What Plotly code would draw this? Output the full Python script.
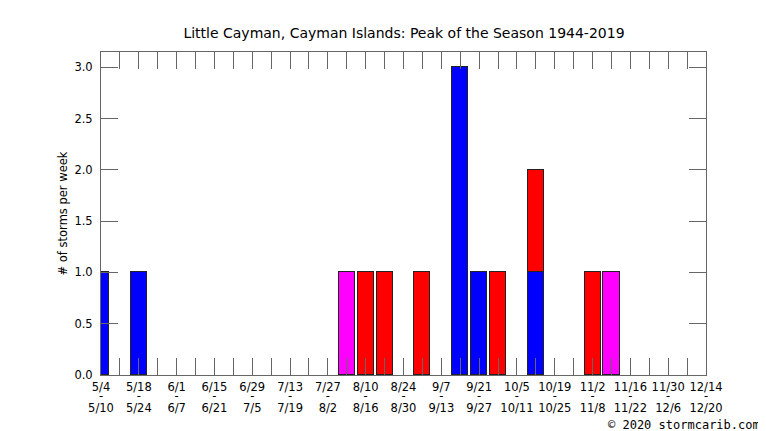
import plotly.graph_objects as go

# Weekly bins starting 5/4 (week 0) through 12/14 (week 32)
week_starts = ["5/4", "5/18", "6/1", "6/15", "6/29", "7/13", "7/27", "8/10", "8/24",
               "9/7", "9/21", "10/5", "10/19", "11/2", "11/16", "11/30", "12/14"]
week_ends = ["5/10", "5/24", "6/7", "6/21", "7/5", "7/19", "8/2", "8/16", "8/30",
             "9/13", "9/27", "10/11", "10/25", "11/8", "11/22", "12/6", "12/20"]

# storms per week, by week index
blue_weeks = [0, 2, 19, 20, 23]
blue_counts = [1, 1, 3, 1, 1]
red_weeks = [14, 15, 17, 21, 23, 26]
red_counts = [1, 1, 1, 1, 1, 1]
magenta_weeks = [13, 27]
magenta_counts = [1, 1]

y_ticks = [0, 0.5, 1.0, 1.5, 2.0, 2.5, 3.0]

font = "DejaVu Sans"
n_weeks = 2 * (len(week_starts) - 1)

fig = go.Figure()
for wk, cnt, col in [(blue_weeks, blue_counts, "#0000ff"),
                     (red_weeks, red_counts, "#ff0000"),
                     (magenta_weeks, magenta_counts, "#ff00ff")]:
    fig.add_trace(go.Bar(x=wk, y=cnt, width=0.85, marker_color=col,
                         marker_line=dict(color="#222222", width=1),
                         showlegend=False))

# every week gets a tick, every other week gets a label
tickvals = list(range(n_weeks + 1))
start_text, dash_text, end_text = [], [], []
for i in tickvals:
    if i % 2 == 0:
        start_text.append(week_starts[i // 2])
        dash_text.append("-")
        end_text.append(week_ends[i // 2])
    else:
        start_text.append("")
        dash_text.append("")
        end_text.append("")

# page body adds an 8px margin, so the figure is 8px smaller on each side
fig.update_layout(
    width=758, height=423,
    margin=dict(l=93, r=60, t=44, b=56),
    paper_bgcolor="white", plot_bgcolor="white",
    barmode="stack", bargap=0,
    font=dict(family=font, size=11, color="black"),
    title=dict(text="Little Cayman, Cayman Islands: Peak of the Season 1944-2019",
               x=0.5224, xanchor="center", y=0.941, yanchor="middle",
               font=dict(family=font, size=14, color="black")),
    annotations=[dict(text="© 2020 stormcarib.com", xref="paper", yref="paper",
                      x=1.093, y=-0.155, xanchor="right", yanchor="middle",
                      showarrow=False,
                      font=dict(family="DejaVu Sans Mono", size=12, color="black"))],
)

axis_common = dict(ticks="inside", ticklen=17, tickcolor="#666666", tickwidth=1,
                   showgrid=False, zeroline=False, automargin=False)

fig.update_layout(
    xaxis=dict(range=[0, n_weeks], tickvals=tickvals, ticktext=start_text,
               showline=True, linecolor="#666666", linewidth=1, mirror="ticks",
               tickangle=0, ticklabelstandoff=1,
               tickfont=dict(family=font, size=11.5), **axis_common),
    xaxis2=dict(range=[0, n_weeks], tickvals=tickvals, ticktext=dash_text,
                overlaying="x", anchor="y", side="bottom", ticks="",
                showgrid=False, zeroline=False, automargin=False, tickangle=0,
                ticklabelstandoff=12, tickfont=dict(family=font, size=11.5)),
    xaxis3=dict(range=[0, n_weeks], tickvals=tickvals, ticktext=end_text,
                overlaying="x", anchor="y", side="bottom", ticks="",
                showgrid=False, zeroline=False, automargin=False, tickangle=0,
                ticklabelstandoff=24, tickfont=dict(family=font, size=11.5)),
    yaxis=dict(range=[0, 3.15], tickvals=y_ticks, tickformat=".1f",
               showline=True, linecolor="#666666", linewidth=1, mirror="ticks",
               ticklabelstandoff=5,
               title=dict(text="# of storms per week", standoff=4,
                          font=dict(family=font, size=11.5)),
               tickfont=dict(family=font, size=11.5), **axis_common),
)

# invisible traces so the extra label axes are drawn
fig.add_trace(go.Scatter(x=[0], y=[0], xaxis="x2", mode="markers",
                         marker=dict(opacity=0), showlegend=False, hoverinfo="skip"))
fig.add_trace(go.Scatter(x=[0], y=[0], xaxis="x3", mode="markers",
                         marker=dict(opacity=0), showlegend=False, hoverinfo="skip"))

fig.write_html("out.html")
